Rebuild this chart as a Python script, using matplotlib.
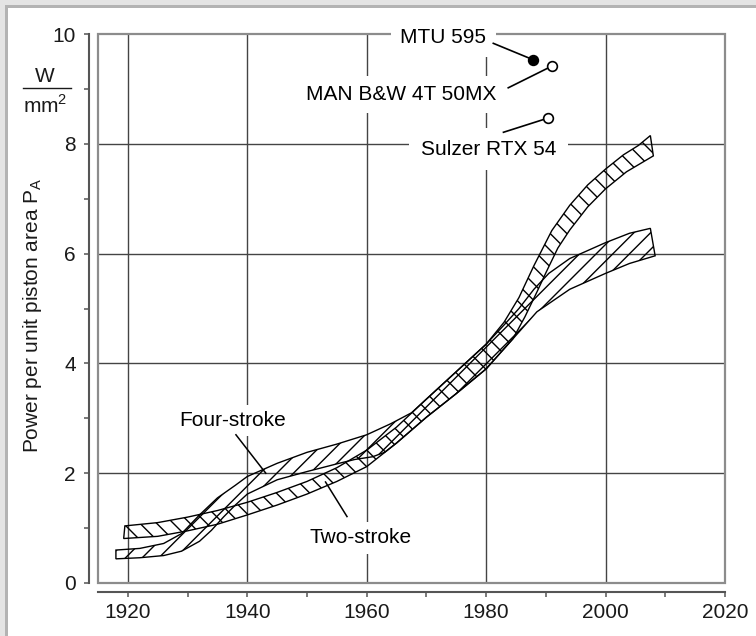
import numpy as np
import matplotlib
matplotlib.use('Agg')
import matplotlib.pyplot as plt
from matplotlib.patches import Rectangle
from matplotlib.lines import Line2D

# Two-stroke band (upper / lower boundary)
two_up_x = [1919.5, 1925, 1930, 1935, 1940, 1945, 1950, 1955, 1960, 1965, 1970, 1975,
            1980, 1983, 1985.5, 1988, 1991, 1994, 1997, 2000, 2003, 2005.5, 2007.5]
two_up_y = [1.04, 1.10, 1.20, 1.32, 1.47, 1.65, 1.85, 2.10, 2.42, 2.84, 3.35, 3.85,
            4.35, 4.75, 5.20, 5.78, 6.42, 6.88, 7.25, 7.54, 7.80, 7.97, 8.15]
two_lo_x = [1919.3, 1925, 1930, 1935, 1940, 1945, 1950, 1955, 1960, 1965, 1970, 1975,
            1980, 1984.5, 1986.5, 1988.5, 1990, 1992, 1994, 1997, 2000, 2003.5, 2008]
two_lo_y = [0.81, 0.85, 0.95, 1.07, 1.24, 1.42, 1.62, 1.85, 2.12, 2.55, 3.02, 3.45,
            3.90, 4.45, 4.85, 5.30, 5.65, 6.10, 6.43, 6.85, 7.18, 7.49, 7.78]

# Four-stroke band
four_up_x = [1918, 1922, 1926, 1929, 1932, 1935, 1938, 1940, 1945, 1950, 1955, 1960, 1964,
             1967.5, 1970, 1975, 1980, 1983, 1985.5, 1988, 1990.5, 1994, 2000, 2004, 2007.5]
four_up_y = [0.60, 0.63, 0.72, 0.90, 1.24, 1.55, 1.78, 1.94, 2.18, 2.38, 2.53, 2.70, 2.90,
             3.10, 3.35, 3.85, 4.35, 4.70, 5.00, 5.35, 5.64, 5.91, 6.20, 6.37, 6.46]
four_lo_x = [1918, 1922, 1926, 1929, 1932, 1934, 1936, 1938, 1940, 1945, 1950, 1955, 1958,
             1961, 1963, 1965, 1970, 1975, 1980, 1984.5, 1988.5, 1994, 2000, 2004, 2008.3]
four_lo_y = [0.44, 0.46, 0.50, 0.58, 0.76, 0.96, 1.20, 1.42, 1.62, 1.88, 2.03, 2.17, 2.25,
             2.30, 2.38, 2.55, 3.02, 3.45, 3.90, 4.45, 4.94, 5.35, 5.64, 5.82, 5.96]

# single engines
engines = ['MTU 595', 'MAN B&W 4T 50MX', 'Sulzer RTX 54']
engine_year = [1987.9, 1991.1, 1990.4]
engine_pa = [9.53, 9.42, 8.47]
engine_filled = [True, False, False]

x_major = [1920, 1940, 1960, 1980, 2000, 2020]
y_major = [0, 2, 4, 6, 8, 10]

plt.rcParams['font.family'] = ['Liberation Sans', 'DejaVu Sans']
plt.rcParams['mathtext.fontset'] = 'custom'
plt.rcParams['mathtext.rm'] = 'Liberation Sans'
plt.rcParams['hatch.linewidth'] = 1.0

W, H = 756, 636
fig = plt.figure(figsize=(W / 100, H / 100), dpi=100)
fig.patch.set_facecolor('white')

# grey frame along top and left edge
fig.add_artist(Rectangle((0, 1 - 5 / H), 1, 5 / H, transform=fig.transFigure, color='#e4e4e4', lw=0))
fig.add_artist(Rectangle((0, 0), 5 / W, 1, transform=fig.transFigure, color='#e4e4e4', lw=0))
fig.add_artist(Rectangle((5 / W, 1 - 8 / H), 1, 3 / H, transform=fig.transFigure, color='#b3b3b3', lw=0))
fig.add_artist(Rectangle((5 / W, 0), 3 / W, 1 - 5 / H, transform=fig.transFigure, color='#b3b3b3', lw=0))

ax = fig.add_axes([98 / W, 1 - 583 / H, 627 / W, 549 / H])
ax.set_xlim(1915, 2020)
ax.set_ylim(0, 10)

ax.set_xticks(x_major)
ax.set_xticks(range(1930, 2020, 20), minor=True)
ax.set_yticks(y_major)
ax.set_yticks([1, 3, 5, 7, 9], minor=True)
ax.tick_params(which='both', direction='out', length=3.6, width=1.1, color='#555555',
               labelsize=15, labelcolor='#1a1a1a')
ax.tick_params(axis='y', pad=6)
ax.tick_params(axis='x', pad=4)

for s in ['top', 'right']:
    ax.spines[s].set_visible(False)
for s in ['left', 'bottom']:
    ax.spines[s].set_position(('outward', 6.5))
    ax.spines[s].set_color('#555555')
    ax.spines[s].set_linewidth(1.5)

ax.add_patch(Rectangle((0, 0), 1, 1, transform=ax.transAxes, fill=False,
                       ec='#8c8c8c', lw=1.6, zorder=2.2, clip_on=False))
for x in x_major[:-1]:
    ax.axvline(x, color='#444444', lw=1.0, zorder=1)
for y in y_major[1:-1]:
    ax.axhline(y, color='#444444', lw=1.0, zorder=1)

# hatched bands
ax.fill(np.r_[two_up_x, two_lo_x[::-1]], np.r_[two_up_y, two_lo_y[::-1]],
        facecolor='none', edgecolor='black', hatch='\\\\', lw=1.0, zorder=3)
ax.fill(np.r_[four_up_x, four_lo_x[::-1]], np.r_[four_up_y, four_lo_y[::-1]],
        facecolor='none', edgecolor='black', hatch='//', lw=1.0, zorder=3)

box = dict(facecolor='white', edgecolor='none', boxstyle='square,pad=0.45')

# engine points with leader lines
for name, yr, pa, filled in zip(engines, engine_year, engine_pa, engine_filled):
    ax.plot(yr, pa, 'o', ms=7 if filled else 7, mfc='black' if filled else 'white',
            mec='black', mew=1.2, zorder=10, clip_on=False)

ax.plot([1981.2, 1987.9], [9.83, 9.53], color='black', lw=1.2, zorder=9)
ax.plot([1983.7, 1991.1], [9.02, 9.42], color='black', lw=1.2, zorder=9)
ax.plot([1982.9, 1990.4], [8.21, 8.47], color='black', lw=1.2, zorder=9)
ax.text(1972.8, 9.83, engines[0], ha='center', va='baseline', fontsize=15, bbox=box, zorder=8)
ax.text(1965.7, 8.80, engines[1], ha='center', va='baseline', fontsize=15, bbox=box, zorder=8)
ax.text(1980.4, 7.80, engines[2], ha='center', va='baseline', fontsize=15,
        bbox=dict(facecolor='white', edgecolor='none', boxstyle='square,pad=0.55'), zorder=8)

# band labels
ax.plot([1938.1, 1943.1], [2.70, 2.0], color='black', lw=1.1, zorder=9)
ax.plot([1956.7, 1953.1], [1.21, 1.84], color='black', lw=1.1, zorder=9)
ax.text(1937.6, 2.86, 'Four-stroke', ha='center', va='baseline', fontsize=15,
        bbox=dict(facecolor='white', edgecolor='none', boxstyle='square,pad=0.3'), zorder=8)
ax.text(1959.0, 0.72, 'Two-stroke', ha='center', va='baseline', fontsize=15,
        bbox=dict(facecolor='white', edgecolor='none', boxstyle='square,pad=0.3'), zorder=8)

# axis title and unit
ax.text(-0.104, 0.488, 'Power per unit piston area P$_\\mathregular{A}$', rotation=90,
        ha='center', va='center', transform=ax.transAxes, fontsize=15, color='#1a1a1a')
fig.text(45 / W, 1 - 82 / H, 'W', ha='center', va='baseline', fontsize=15, color='#1a1a1a')
fig.text(45.5 / W, 1 - 113 / H, 'mm$^2$', ha='center', va='baseline', fontsize=15, color='#1a1a1a')
fig.add_artist(Line2D([23 / W, 71 / W], [1 - 88 / H, 1 - 88 / H], color='#1a1a1a', lw=1.0))

fig.savefig('out.png', dpi=100)
